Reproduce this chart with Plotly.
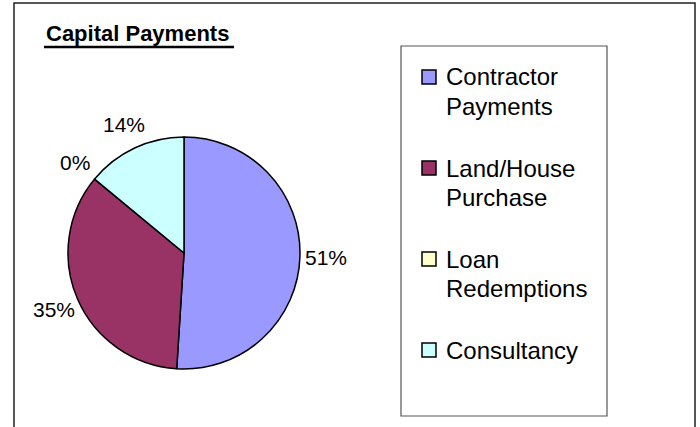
import math
import plotly.graph_objects as go

# ---- data ----
labels = ["Contractor Payments", "Land/House Purchase", "Loan Redemptions", "Consultancy"]
legend_lines = [["Contractor", "Payments"], ["Land/House", "Purchase"], ["Loan", "Redemptions"], ["Consultancy"]]
values = [51, 35, 0, 14]
colors = ["#9999FF", "#993366", "#FFFFCC", "#CCFFFF"]
title_text = "Capital Payments"

W, H = 700, 427
FONT = "Liberation Sans, Arial, sans-serif"

# pie geometry (pixels)
cx, cy, R = 184, 253, 116

def px(x):
    return x / W

def py(y):
    return 1 - y / H

fig = go.Figure()
fig.add_trace(go.Pie(
    labels=labels,
    values=values,
    sort=False,
    direction="clockwise",
    rotation=0,
    textinfo="none",
    hoverinfo="label+percent",
    showlegend=False,
    marker=dict(colors=colors, line=dict(color="black", width=1.5)),
    domain=dict(x=[px(cx - R), px(cx + R)], y=[py(cy + R), py(cy - R)]),
))

annotations = []
shapes = []

# percentage labels outside slices
total = sum(values)
cum = 0
label_r = 142
for v in values:
    mid = (cum + v / 2) / total * 2 * math.pi
    cum += v
    lx = cx + label_r * math.sin(mid)
    ly = cy - label_r * math.cos(mid)
    pct = round(v / total * 100)
    annotations.append(dict(
        x=px(lx), y=py(ly), xref="paper", yref="paper",
        text=f"{pct}%", showarrow=False, xanchor="center", yanchor="middle",
        font=dict(family=FONT, size=21, color="black"),
    ))

# title
annotations.append(dict(
    x=px(44), y=py(34), xref="paper", yref="paper",
    text=f"<b>{title_text}</b>", showarrow=False, xanchor="left", yanchor="middle",
    font=dict(family=FONT, size=22, color="black"),
))
shapes.append(dict(type="line", xref="paper", yref="paper",
                   x0=px(44), x1=px(234), y0=py(47), y1=py(47),
                   line=dict(color="black", width=2.5)))

# outer frame
shapes.append(dict(type="rect", xref="paper", yref="paper",
                   x0=px(14), x1=px(695), y0=py(3), y1=py(440),
                   line=dict(color="#222222", width=1.5)))

# legend box
shapes.append(dict(type="rect", xref="paper", yref="paper",
                   x0=px(401), x1=px(607), y0=py(46), y1=py(416),
                   line=dict(color="#555555", width=1.2), fillcolor="white"))

entry_gap = 91
line_h = 29
for i, (lines, col) in enumerate(zip(legend_lines, colors)):
    y0 = 77 + i * entry_gap
    shapes.append(dict(type="rect", xref="paper", yref="paper",
                       x0=px(422), x1=px(436), y0=py(y0 - 7), y1=py(y0 + 7),
                       line=dict(color="black", width=1.5), fillcolor=col))
    for j, t in enumerate(lines):
        annotations.append(dict(
            x=px(444), y=py(y0 + j * line_h), xref="paper", yref="paper",
            text=t, showarrow=False, xanchor="left", yanchor="middle",
            font=dict(family=FONT, size=24, color="black"),
        ))

fig.update_layout(
    width=W, height=H,
    margin=dict(l=0, r=0, t=0, b=0),
    paper_bgcolor="white", plot_bgcolor="white",
    annotations=annotations, shapes=shapes,
    showlegend=False,
)

fig.write_html("out.html", config={"displayModeBar": False},
               post_script="document.body.style.margin='0px';")
